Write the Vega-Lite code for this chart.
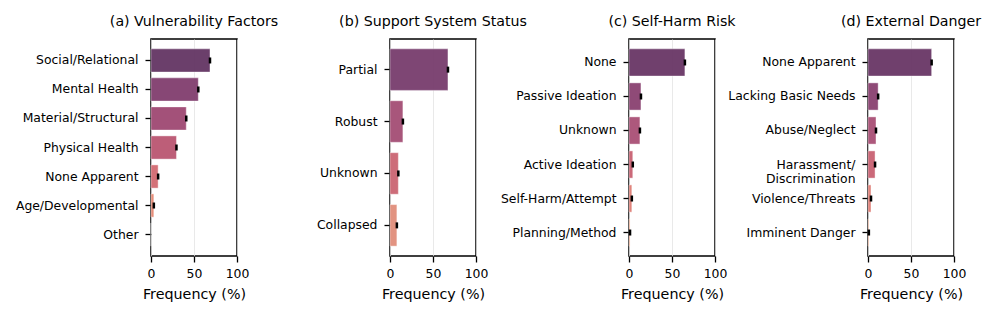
{
  "$schema": "https://vega.github.io/schema/vega-lite/v6.json",
  "padding": {"left": 14, "top": 14, "right": 5, "bottom": 5},
  "background": "white",
  "config": {
    "font": "DejaVu Sans",
    "view": {"stroke": "black", "strokeWidth": 1.5},
    "title": {"fontSize": 14.2, "fontWeight": "normal", "color": "black", "anchor": "middle", "frame": "group", "offset": 10},
    "axis": {
      "labelFont": "DejaVu Sans", "titleFont": "DejaVu Sans",
      "labelFontSize": 12.4, "titleFontSize": 14.3, "titleFontWeight": "normal",
      "labelColor": "black", "titleColor": "black",
      "tickColor": "black", "tickWidth": 1.3, "tickSize": 6,
      "domain": false
    },
    "axisX": {"grid": true, "gridColor": "#e3e3e3", "gridWidth": 0.8, "labelPadding": 5, "titlePadding": 8, "values": [0, 50, 100], "labelFlush": false},
    "axisY": {"grid": false, "labelPadding": 7, "title": null, "labelLimit": 300}
  },
  "data": {
    "values": [
      {"panel": "a", "category": "Social/Relational", "freq": 68.6},
      {"panel": "a", "category": "Mental Health", "freq": 55.0},
      {"panel": "a", "category": "Material/Structural", "freq": 41.0},
      {"panel": "a", "category": "Physical Health", "freq": 29.6},
      {"panel": "a", "category": "None Apparent", "freq": 8.3},
      {"panel": "a", "category": "Age/Developmental", "freq": 3.3},
      {"panel": "a", "category": "Other", "freq": 0},
      {"panel": "b", "category": "Partial", "freq": 67.4},
      {"panel": "b", "category": "Robust", "freq": 15.0},
      {"panel": "b", "category": "Unknown", "freq": 9.7},
      {"panel": "b", "category": "Collapsed", "freq": 8.0},
      {"panel": "c", "category": "None", "freq": 65.0},
      {"panel": "c", "category": "Passive Ideation", "freq": 13.9},
      {"panel": "c", "category": "Unknown", "freq": 12.7},
      {"panel": "c", "category": "Active Ideation", "freq": 4.4},
      {"panel": "c", "category": "Self-Harm/Attempt", "freq": 3.3},
      {"panel": "c", "category": "Planning/Method", "freq": 1.2},
      {"panel": "d", "category": "None Apparent", "freq": 74.0},
      {"panel": "d", "category": "Lacking Basic Needs", "freq": 11.8},
      {"panel": "d", "category": "Abuse/Neglect", "freq": 9.3},
      {"panel": "d", "category": "Harassment/Discrimination", "freq": 8.2},
      {"panel": "d", "category": "Violence/Threats", "freq": 3.5},
      {"panel": "d", "category": "Imminent Danger", "freq": 1.0}
    ]
  },
  "bounds": "flush",
  "spacing": 153,
  "resolve": {"scale": {"y": "independent", "color": "independent", "x": "independent"}},
  "hconcat": [
    {
      "title": "(a) Vulnerability Factors",
      "width": 86, "height": 217,
      "transform": [{"filter": "datum.panel == 'a'"}],
      "encoding": {
        "y": {"field": "category", "type": "nominal", "scale": {"domain": ["Social/Relational", "Mental Health", "Material/Structural", "Physical Health", "None Apparent", "Age/Developmental", "Other"], "paddingInner": 0.2, "paddingOuter": 0.34}},
        "x": {"field": "freq", "type": "quantitative", "title": "Frequency (%)", "scale": {"domain": [0, 100], "nice": false}}
      },
      "layer": [
        {"mark": {"type": "bar", "fillOpacity": 0.92, "stroke": "white", "strokeOpacity": 0.4, "strokeWidth": 1},
         "encoding": {"color": {"field": "category", "type": "nominal", "legend": null, "scale": {"domain": ["Social/Relational", "Mental Health", "Material/Structural", "Physical Health", "None Apparent", "Age/Developmental", "Other"], "range": ["#5e2f5e", "#7d3769", "#9b426e", "#b7506c", "#d0656c", "#e4846f", "#eba283"]}}}},
        {"transform": [{"filter": "datum.freq > 0"}], "mark": {"type": "tick", "color": "black", "thickness": 2.5, "size": 6, "opacity": 1}, "encoding": {}}
      ]
    },
    {
      "title": "(b) Support System Status",
      "width": 86, "height": 217,
      "transform": [{"filter": "datum.panel == 'b'"}],
      "encoding": {
        "y": {"field": "category", "type": "nominal", "scale": {"domain": ["Partial", "Robust", "Unknown", "Collapsed"], "paddingInner": 0.2, "paddingOuter": 0.19}},
        "x": {"field": "freq", "type": "quantitative", "title": "Frequency (%)", "scale": {"domain": [0, 100], "nice": false}}
      },
      "layer": [
        {"mark": {"type": "bar", "fillOpacity": 0.92, "stroke": "white", "strokeOpacity": 0.4, "strokeWidth": 1},
         "encoding": {"color": {"field": "category", "type": "nominal", "legend": null, "scale": {"domain": ["Partial", "Robust", "Unknown", "Collapsed"], "range": ["#733668", "#a14870", "#c9606e", "#df8a76"]}}}},
        {"mark": {"type": "tick", "color": "black", "thickness": 2.5, "size": 6, "opacity": 1}, "encoding": {}}
      ]
    },
    {
      "title": "(c) Self-Harm Risk",
      "width": 86, "height": 217,
      "transform": [{"filter": "datum.panel == 'c'"}],
      "encoding": {
        "y": {"field": "category", "type": "nominal", "scale": {"domain": ["None", "Passive Ideation", "Unknown", "Active Ideation", "Self-Harm/Attempt", "Planning/Method"], "paddingInner": 0.2, "paddingOuter": 0.29}},
        "x": {"field": "freq", "type": "quantitative", "title": "Frequency (%)", "scale": {"domain": [0, 100], "nice": false}}
      },
      "layer": [
        {"mark": {"type": "bar", "fillOpacity": 0.92, "stroke": "white", "strokeOpacity": 0.4, "strokeWidth": 1},
         "encoding": {"color": {"field": "category", "type": "nominal", "legend": null, "scale": {"domain": ["None", "Passive Ideation", "Unknown", "Active Ideation", "Self-Harm/Attempt", "Planning/Method"], "range": ["#643061", "#853b6b", "#a64a71", "#c75c6e", "#dd7a71", "#e9a080"]}}}},
        {"mark": {"type": "tick", "color": "black", "thickness": 2.5, "size": 6, "opacity": 1}, "encoding": {}}
      ]
    },
    {
      "title": "(d) External Danger",
      "width": 86, "height": 217,
      "transform": [{"filter": "datum.panel == 'd'"}],
      "encoding": {
        "y": {"field": "category", "type": "nominal", "scale": {"domain": ["None Apparent", "Lacking Basic Needs", "Abuse/Neglect", "Harassment/Discrimination", "Violence/Threats", "Imminent Danger"], "paddingInner": 0.2, "paddingOuter": 0.29},
              "axis": {"labelExpr": "datum.value == 'Harassment/Discrimination' ? ['Harassment/', 'Discrimination'] : datum.label", "labelLineHeight": 14}},
        "x": {"field": "freq", "type": "quantitative", "title": "Frequency (%)", "scale": {"domain": [0, 100], "nice": false}}
      },
      "layer": [
        {"mark": {"type": "bar", "fillOpacity": 0.92, "stroke": "white", "strokeOpacity": 0.4, "strokeWidth": 1},
         "encoding": {"color": {"field": "category", "type": "nominal", "legend": null, "scale": {"domain": ["None Apparent", "Lacking Basic Needs", "Abuse/Neglect", "Harassment/Discrimination", "Violence/Threats", "Imminent Danger"], "range": ["#643061", "#853b6b", "#a64a71", "#c75c6e", "#dd7a71", "#e9a080"]}}}},
        {"mark": {"type": "tick", "color": "black", "thickness": 2.5, "size": 6, "opacity": 1}, "encoding": {}}
      ]
    }
  ]
}
